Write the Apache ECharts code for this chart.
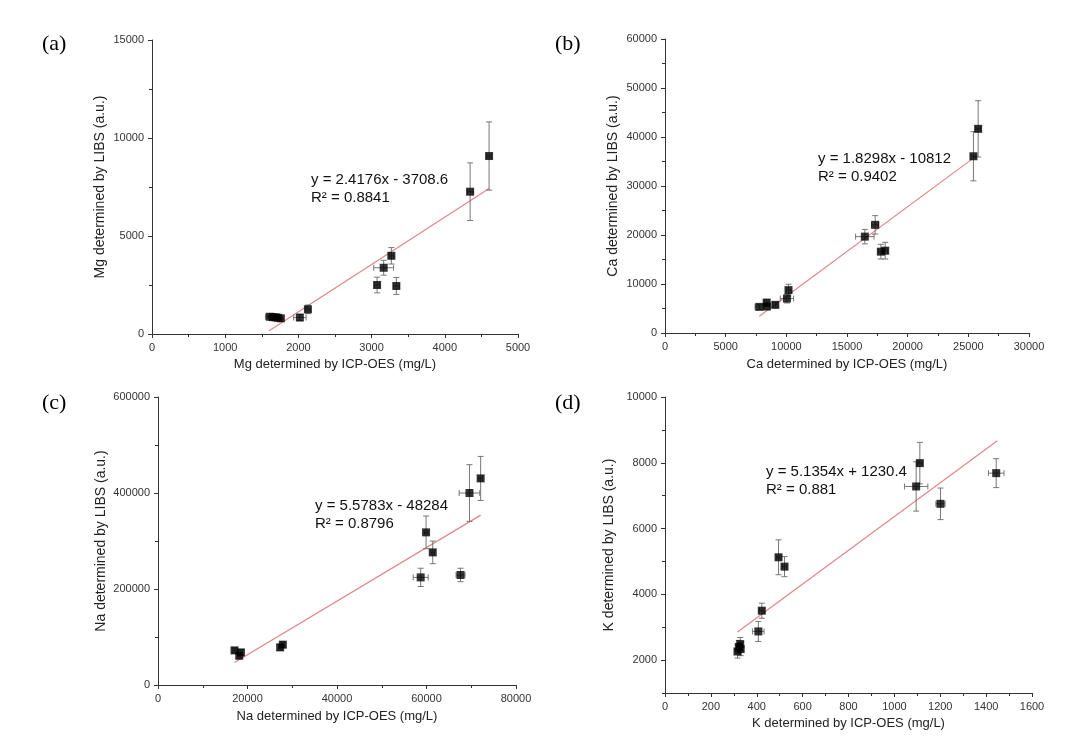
<!DOCTYPE html>
<html>
<head>
<meta charset="utf-8">
<script src="https://cdn.jsdelivr.net/npm/echarts@6/dist/echarts.min.js"></script>
<style>
html,body{margin:0;padding:0;background:#fff;}
#chart{width:1084px;height:748px;}
</style>
</head>
<body>
<div id="chart"></div>
<script>
// ---- Data ----
// (a) Mg
const mgX  = [1610, 1650, 1690, 1720, 1760, 2020, 2130, 3075, 3165, 3270, 3338, 4346, 4605];
const mgY  = [880, 860, 850, 830, 800, 840, 1260, 2500, 3380, 3990, 2450, 7260, 9080];
const mgEx = [60, 20, 20, 20, 20, 85, 30, 30, 136, 30, 40, 40, 30];
const mgEy = [60, 60, 60, 60, 60, 150, 220, 400, 380, 420, 430, 1470, 1740];
const mgTrendX = [1600, 4605];
const mgTrendY = [160, 7425];
const mgEq = ['y = 2.4176x - 3708.6', 'R² = 0.8841'];

// (b) Ca
const caX  = [7770, 8380, 8400, 9090, 10050, 10180, 16470, 17320, 17790, 18150, 25420, 25810];
const caY  = [5330, 6210, 5400, 5740, 7030, 8750, 19670, 22070, 16600, 16800, 36070, 41660];
const caEx = [350, 200, 200, 200, 550, 200, 760, 300, 200, 200, 200, 200];
const caEy = [500, 600, 500, 500, 900, 1200, 1470, 1880, 1500, 1700, 5020, 5740];
const caTrendX = [7770, 25700];
const caTrendY = [3400, 36200];
const caEq = ['y = 1.8298x - 10812', 'R² = 0.9402'];

// (c) Na
const naX  = [17100, 18150, 18530, 27300, 27900, 58700, 59900, 61400, 67600, 69600, 72100];
const naY  = [72100, 61000, 67900, 78400, 84000, 224200, 318000, 276300, 229200, 400000, 430400];
const naEx = [400, 400, 400, 400, 400, 1670, 400, 400, 1000, 2300, 400];
const naEy = [5000, 6000, 6000, 6000, 6000, 19000, 34000, 23600, 14000, 59000, 45800];
const naTrendX = [17100, 72100];
const naTrendY = [47100, 353900];
const naEq = ['y = 5.5783x - 48284', 'R² = 0.8796'];

// (d) K
const kX  = [316, 322, 328, 330, 407, 422, 495, 521, 1095, 1111, 1201, 1444];
const kY  = [2262, 2400, 2487, 2335, 2872, 3502, 5126, 4842, 7280, 7990, 6752, 7685];
const kEx = [10, 10, 10, 10, 25, 10, 10, 10, 51, 10, 20, 34];
const kEy = [200, 200, 200, 200, 305, 230, 530, 305, 750, 630, 480, 440];
const kTrendX = [316, 1449];
const kTrendY = [2853, 8672];
const kEq = ['y = 5.1354x + 1230.4', 'R² = 0.881'];

const kYLabels = [2000, 4000, 6000, 8000, 10000];
const kYMinor  = [1000, 3000, 5000, 7000, 9000];

// ---- Styling ----
const FONT = "'Liberation Sans', Arial, sans-serif";
const AXIS_COLOR = '#333';
const LABEL_COLOR = '#333';

function zip(xs, ys, exs, eys) {
  return xs.map((x, i) => exs ? [x, ys[i], exs[i], eys[i]] : [x, ys[i]]);
}

function errRender(params, api) {
  const x = api.value(0), y = api.value(1), ex = api.value(2), ey = api.value(3);
  const top = api.coord([x, y + ey]);
  const bot = api.coord([x, y - ey]);
  const lft = api.coord([x - ex, y]);
  const rgt = api.coord([x + ex, y]);
  const cap = 3;
  const st = { stroke: '#777', lineWidth: 1 };
  const L = (x1, y1, x2, y2) => ({ type: 'line', shape: { x1, y1, x2, y2 }, style: st });
  return {
    type: 'group',
    children: [
      L(top[0], top[1], bot[0], bot[1]),
      L(top[0] - cap, top[1], top[0] + cap, top[1]),
      L(bot[0] - cap, bot[1], bot[0] + cap, bot[1]),
      L(lft[0], lft[1], rgt[0], rgt[1]),
      L(lft[0], lft[1] - cap, lft[0], lft[1] + cap),
      L(rgt[0], rgt[1] - cap, rgt[0], rgt[1] + cap)
    ]
  };
}

const plain = v => String(v);

function baseAxis(extra, isY) {
  return Object.assign({
    type: 'value',
    axisLine: { show: true, lineStyle: { color: AXIS_COLOR, width: 1 } },
    axisTick: { show: true, length: 4, lineStyle: { color: AXIS_COLOR } },
    minorTick: { show: true, splitNumber: 2, length: 3, lineStyle: { color: AXIS_COLOR } },
    splitLine: { show: false },
    axisLabel: { color: LABEL_COLOR, fontFamily: FONT, fontSize: 11, margin: 8, formatter: plain },
    nameLocation: 'middle',
    nameTextStyle: { color: '#222', fontFamily: FONT, fontSize: isY ? 14 : 13 }
  }, extra);
}

const grids = [
  { left: 152, top: 40, width: 366, height: 294 },
  { left: 665, top: 39, width: 364, height: 294 },
  { left: 158, top: 397, width: 358, height: 288 },
  { left: 665, top: 397, width: 367, height: 296 }
];

const xAxes = [
  baseAxis({ gridIndex: 0, min: 0, max: 5000, interval: 1000, name: 'Mg determined by ICP-OES (mg/L)', nameGap: 24 }),
  baseAxis({ gridIndex: 1, min: 0, max: 30000, interval: 5000, name: 'Ca determined by ICP-OES (mg/L)', nameGap: 25 }),
  baseAxis({ gridIndex: 2, min: 0, max: 80000, interval: 20000, name: 'Na determined by ICP-OES (mg/L)', nameGap: 25 }),
  baseAxis({ gridIndex: 3, min: 0, max: 1600, interval: 200, name: 'K determined by ICP-OES (mg/L)', nameGap: 24 })
];

const yAxes = [
  baseAxis({ gridIndex: 0, min: 0, max: 15000, interval: 5000, name: 'Mg determined by LIBS (a.u.)', nameGap: 45 }, true),
  baseAxis({ gridIndex: 1, min: 0, max: 60000, interval: 10000, name: 'Ca determined by LIBS (a.u.)', nameGap: 45 }, true),
  baseAxis({ gridIndex: 2, min: 0, max: 600000, interval: 200000, name: 'Na determined by LIBS (a.u.)', nameGap: 50 }, true),
  baseAxis({ gridIndex: 3, min: 1000, max: 10000, interval: 1000, name: 'K determined by LIBS (a.u.)', nameGap: 49,
    minorTick: { show: false },
    axisTick: { show: true, length: 4, lineStyle: { color: AXIS_COLOR }, customValues: kYLabels },
    axisLabel: { color: LABEL_COLOR, fontFamily: FONT, fontSize: 11, margin: 8, formatter: plain, customValues: kYLabels } }, true),
  baseAxis({ gridIndex: 3, position: 'left', min: 1000, max: 10000, interval: 1000,
    axisLine: { show: false },
    minorTick: { show: false },
    axisTick: { show: true, length: 3, lineStyle: { color: AXIS_COLOR }, customValues: kYMinor },
    axisLabel: { show: false } }, true)
];

const panels = [
  { x: mgX, y: mgY, ex: mgEx, ey: mgEy, tx: mgTrendX, ty: mgTrendY },
  { x: caX, y: caY, ex: caEx, ey: caEy, tx: caTrendX, ty: caTrendY },
  { x: naX, y: naY, ex: naEx, ey: naEy, tx: naTrendX, ty: naTrendY },
  { x: kX, y: kY, ex: kEx, ey: kEy, tx: kTrendX, ty: kTrendY }
];

const series = [];
panels.forEach((p, i) => {
  series.push({
    type: 'line', xAxisIndex: i, yAxisIndex: i, data: zip(p.tx, p.ty),
    showSymbol: false, silent: true, z: 1,
    lineStyle: { color: '#e0868c', width: 1.2 }
  });
  series.push({
    type: 'custom', xAxisIndex: i, yAxisIndex: i, renderItem: errRender,
    data: zip(p.x, p.y, p.ex, p.ey), encode: { x: 0, y: 1 }, z: 2, silent: true
  });
  series.push({
    type: 'scatter', xAxisIndex: i, yAxisIndex: i, data: zip(p.x, p.y),
    symbol: 'rect', symbolSize: 8, itemStyle: { color: '#000' }, z: 3
  });
});

function eqText(left, top, lines) {
  return {
    type: 'text', left: left, top: top,
    style: { text: lines.join('\n'), fill: '#111', font: "15px " + FONT, lineHeight: 18 }
  };
}
function panelLabel(left, top, t) {
  return {
    type: 'text', left: left, top: top,
    style: { text: t, fill: '#000', font: "22px 'Liberation Serif', 'DejaVu Serif', serif" }
  };
}

const graphics = [
  panelLabel(42, 33, '(a)'),
  panelLabel(555, 33, '(b)'),
  panelLabel(42, 392, '(c)'),
  panelLabel(555, 392, '(d)'),
  eqText(311, 171, mgEq),
  eqText(818, 150, caEq),
  eqText(315, 497, naEq),
  eqText(766, 463, kEq)
];

const chart = echarts.init(document.getElementById('chart'), null, { renderer: 'canvas' });
chart.setOption({
  animation: false,
  backgroundColor: '#fff',
  grid: grids,
  xAxis: xAxes,
  yAxis: yAxes,
  series: series,
  graphic: graphics
});
</script>
</body>
</html>
